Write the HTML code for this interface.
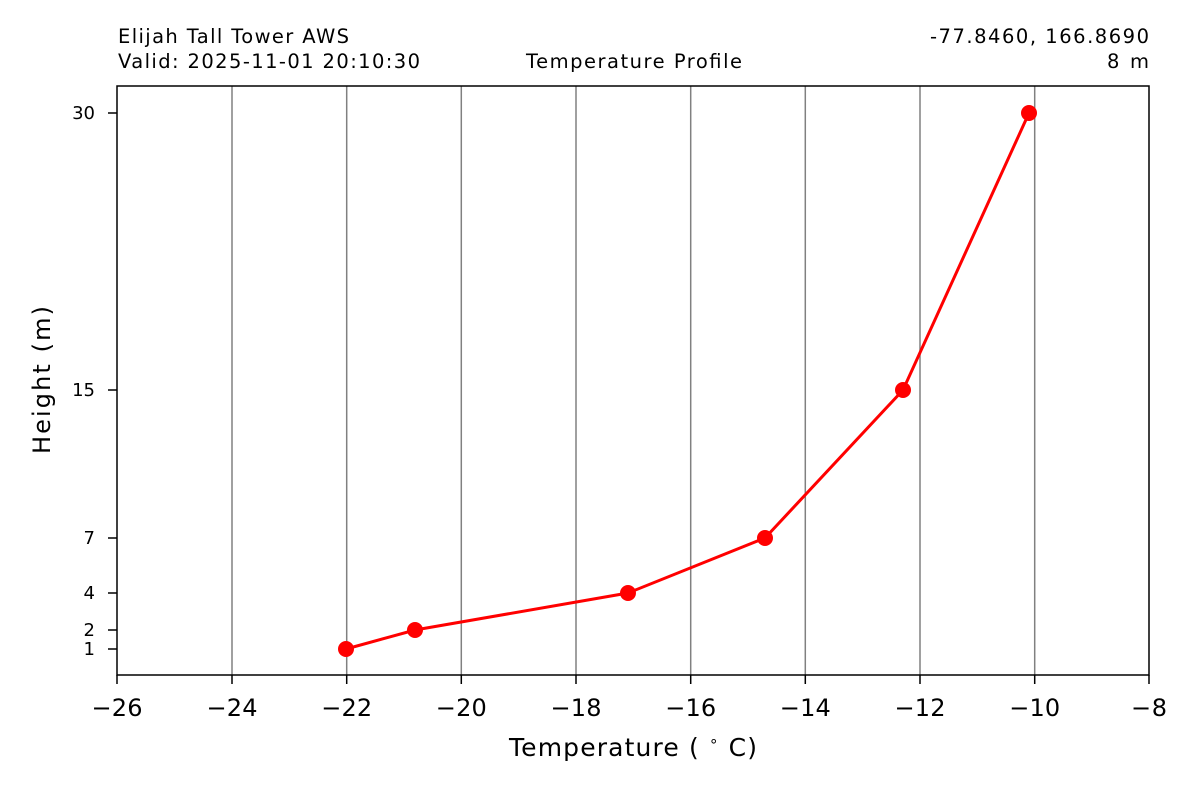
<!DOCTYPE html>
<html><head><meta charset="utf-8"><style>body{margin:0;background:#fff}</style></head><body>
<svg width="1200" height="800" xmlns="http://www.w3.org/2000/svg" font-family="DejaVu Sans, sans-serif">
<rect width="1200" height="800" fill="#fff"/>
<g stroke="#808080" stroke-width="1.5">
<line x1="232" y1="86" x2="232" y2="675"/><line x1="346.7" y1="86" x2="346.7" y2="675"/>
<line x1="461.3" y1="86" x2="461.3" y2="675"/><line x1="576" y1="86" x2="576" y2="675"/>
<line x1="690.7" y1="86" x2="690.7" y2="675"/><line x1="805.3" y1="86" x2="805.3" y2="675"/>
<line x1="920" y1="86" x2="920" y2="675"/><line x1="1034.7" y1="86" x2="1034.7" y2="675"/>
</g>
<polyline points="346,649 415,630 628,593 765,538 903,390 1029,113" fill="none" stroke="#ff0000" stroke-width="3"/>
<g fill="#ff0000"><circle cx="346" cy="649" r="8"/><circle cx="415" cy="630" r="8"/><circle cx="628" cy="593" r="8"/><circle cx="765" cy="538" r="8"/><circle cx="903" cy="390" r="8"/><circle cx="1029" cy="113" r="8"/></g>
<rect x="117" y="86" width="1032" height="589" fill="none" stroke="#000" stroke-width="1.5"/>
<g stroke="#000" stroke-width="1.5">
<line x1="117" y1="675" x2="117" y2="684"/><line x1="232" y1="675" x2="232" y2="684"/><line x1="346.7" y1="675" x2="346.7" y2="684"/><line x1="461.3" y1="675" x2="461.3" y2="684"/><line x1="576" y1="675" x2="576" y2="684"/><line x1="690.7" y1="675" x2="690.7" y2="684"/><line x1="805.3" y1="675" x2="805.3" y2="684"/><line x1="920" y1="675" x2="920" y2="684"/><line x1="1034.7" y1="675" x2="1034.7" y2="684"/><line x1="1149" y1="675" x2="1149" y2="684"/>
<line x1="108" y1="113" x2="117" y2="113"/><line x1="108" y1="390" x2="117" y2="390"/><line x1="108" y1="538" x2="117" y2="538"/><line x1="108" y1="593" x2="117" y2="593"/><line x1="108" y1="630" x2="117" y2="630"/><line x1="108" y1="649" x2="117" y2="649"/>
</g>
<g font-size="24" text-anchor="middle">
<text x="117" y="716" textLength="51">−26</text><text x="232" y="716" textLength="51">−24</text><text x="346.7" y="716" textLength="51">−22</text><text x="461.3" y="716" textLength="51">−20</text><text x="576" y="716" textLength="51">−18</text><text x="690.7" y="716" textLength="51">−16</text><text x="805.3" y="716" textLength="51">−14</text><text x="920" y="716" textLength="51">−12</text><text x="1034.7" y="716" textLength="51">−10</text><text x="1149" y="716" textLength="36">−8</text>
<text x="633" y="756" font-size="25" textLength="248">Temperature ( <tspan font-size="15" dy="-10">∘</tspan><tspan dy="10"> C)</tspan></text>
</g>
<g font-size="18" text-anchor="end">
<text x="95" y="119">30</text><text x="95" y="396">15</text><text x="95" y="544">7</text><text x="95" y="599">4</text><text x="95" y="636">2</text><text x="95" y="655">1</text>
</g>
<text x="50" y="380" font-size="24" text-anchor="middle" textLength="148" transform="rotate(-90 50 380)">Height (m)</text>
<g font-size="19.5">
<text x="118" y="43" textLength="231">Elijah Tall Tower AWS</text>
<text x="118" y="68" textLength="302">Valid: 2025-11-01 20:10:30</text>
<text x="526" y="68" textLength="216">Temperature Profile</text>
<text x="930" y="43" textLength="219">-77.8460, 166.8690</text>
<text x="1107" y="68" textLength="42">8 m</text>
</g>
</svg>
</body></html>
